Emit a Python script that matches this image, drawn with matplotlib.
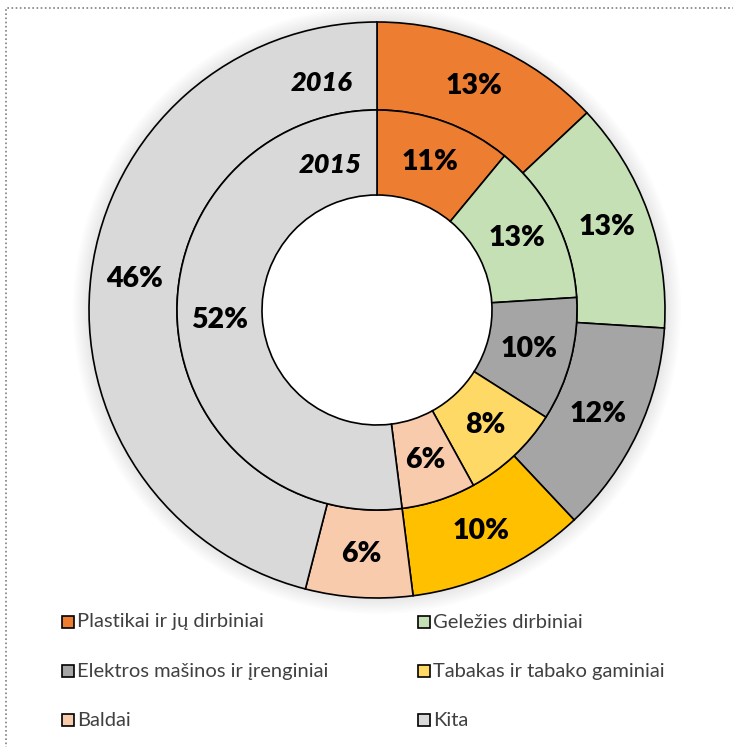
import matplotlib
matplotlib.use('Agg')
import matplotlib.pyplot as plt
from matplotlib.patches import Rectangle, Wedge

# ---------------------- DATA
categories = ["Plastikai ir jų dirbiniai", "Geležies dirbiniai",
              "Elektros mašinos ir įrenginiai", "Tabakas ir tabako gaminiai",
              "Baldai", "Kita"]
share_2016 = [13, 13, 12, 10, 6, 46]
share_2015 = [11, 13, 10, 8, 6, 52]

colors_2016 = ["#ED7D31", "#C5E0B4", "#A5A5A5", "#FFC000", "#F8CBAD", "#D9D9D9"]
colors_2015 = ["#ED7D31", "#C5E0B4", "#A5A5A5", "#FFD966", "#F8CBAD", "#D9D9D9"]
legend_colors = colors_2015

W, H = 733, 747
fig = plt.figure(figsize=(W / 100, H / 100), dpi=100)
ax = fig.add_axes([0, 0, 1, 1])
ax.set_xlim(0, W)
ax.set_ylim(0, H)
ax.set_aspect('equal')
ax.axis('off')

cx, cy = 377, H - 310
r_out, r_mid, r_hole = 288, 200, 115

# soft shadow just outside the donut
for i in range(8):
    ax.add_patch(Wedge((cx, cy), r_out + 2 + i * 2, 0, 360, width=2 + i * 2,
                       color='black', alpha=0.012, lw=0, zorder=0))

edge = dict(edgecolor='black', linewidth=1.2)
lbl = dict(fontsize=20.5, fontweight='heavy', family='Lato', color='black')

ax.pie(share_2016, colors=colors_2016, radius=r_out, center=(cx, cy),
       startangle=90, counterclock=False,
       wedgeprops=dict(width=r_out - r_mid, **edge),
       autopct=lambda p: f"{p:.0f}%", pctdistance=(r_out + r_mid) / 2 / r_out,
       textprops=lbl)
ax.pie(share_2015, colors=colors_2015, radius=r_mid, center=(cx, cy),
       startangle=90, counterclock=False,
       wedgeprops=dict(width=r_mid - r_hole, **edge),
       autopct=lambda p: f"{p:.0f}%", pctdistance=(r_mid + r_hole) / 2 / r_mid,
       textprops=lbl)
ax.set_xlim(0, W)
ax.set_ylim(0, H)

# year labels
ax.text(322, H - 83, "2016", ha='center', va='center', fontsize=19.5,
        fontweight='heavy', style='italic', family='Lato')
ax.text(330, H - 165, "2015", ha='center', va='center', fontsize=19.5,
        fontweight='heavy', style='italic', family='Lato')

# legend
col_x = [62, 418]
row_y = [622, 671, 720]
for i, (name, c) in enumerate(zip(categories, legend_colors)):
    x = col_x[i % 2]
    y = H - row_y[i // 2]
    ax.add_patch(Rectangle((x, y - 6), 12, 12, facecolor=c,
                           edgecolor='black', linewidth=1.2))
    ax.text(x + 15, y, name, ha='left', va='center', fontsize=14.5,
            family='Lato', color='#404040')

# dotted frame
ax.add_patch(Rectangle((6, -20), W + 40, H - 8 + 20, fill=False,
                       edgecolor='#808080', linestyle=(0, (1, 1.5)),
                       linewidth=1.2))

fig.savefig("out.png", dpi=100)
